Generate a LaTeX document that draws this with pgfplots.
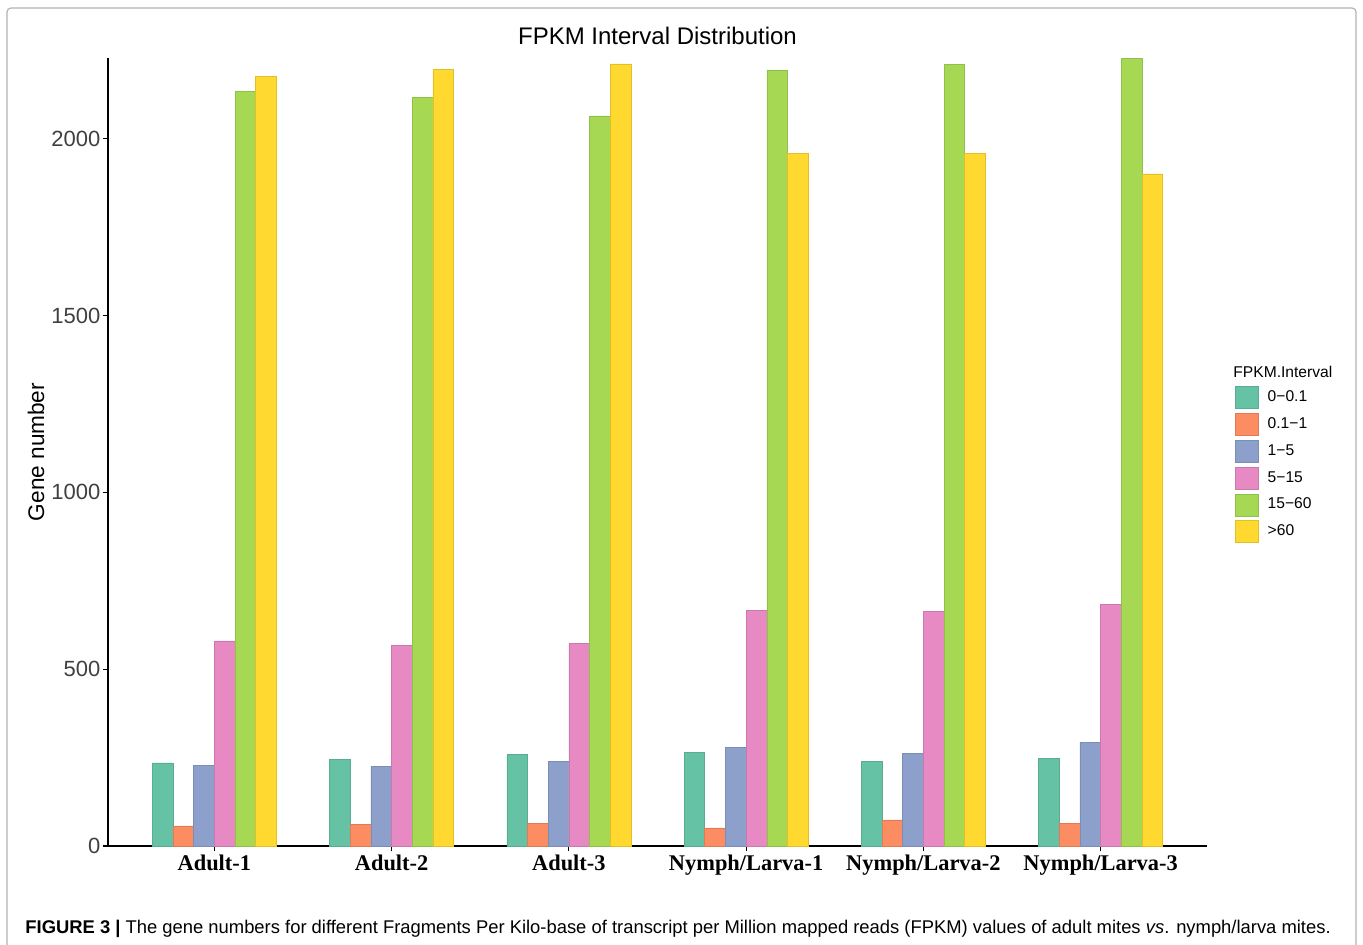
\documentclass[border=0pt]{standalone}
\usepackage{pgfplots}
\pgfplotsset{compat=1.18}
\usepackage{pgfplotstable}
\usepackage{fontspec}
\setmainfont{Liberation Sans}
\newfontfamily\tnr{Liberation Serif}
\definecolor{c1}{HTML}{66C2A5}
\definecolor{c2}{HTML}{FC8D62}
\definecolor{c3}{HTML}{8DA0CB}
\definecolor{c4}{HTML}{E78AC3}
\definecolor{c5}{HTML}{A6D854}
\definecolor{c6}{HTML}{FFD92F}
\pgfplotstableread{
x  a    b   c    d    e     f
0  235  57  227  580  2134  2177
1  244  60  226  568  2116  2196
2  258  64  240  573  2064  2211
3  264  51  279  665  2193  1958
4  240  74  262  664  2209  1959
5  247  63  294  683  2226  1900
}\datatab
\begin{document}
\begin{tikzpicture}
\useasboundingbox (0,0) rectangle (681.5pt,472.5pt);
\draw[gray!60, line width=0.6pt, rounded corners=2pt] (3.5pt,-3pt) rectangle (678pt,468.5pt);
\begin{axis}[
  at={(54pt,49.5pt)}, anchor=south west,
  scale only axis, width=549.5pt, height=394pt,
  xmin=-0.6, xmax=5.6, ymin=0, ymax=2228,
  axis x line*=bottom, axis y line*=left,
  axis line style={line width=1pt, black, -},
  ybar=0pt, bar width=10.34pt,
  xtick={0,1,2,3,4,5},
  xticklabels={Adult-1,Adult-2,Adult-3,Nymph/Larva-1,Nymph/Larva-2,Nymph/Larva-3},
  xticklabel style={font=\tnr\bfseries\fontsize{11.2}{13}\selectfont, yshift=2pt},
  ytick={0,500,1000,1500,2000},
  yticklabel style={font=\fontsize{11}{13}\selectfont, text=black!75, xshift=2.5pt},
  /pgf/number format/assume math mode=true,
  /pgf/number format/1000 sep={},
  tick align=outside, major tick length=2.75pt,
  tick style={line width=0.6pt, black},
  title={FPKM Interval Distribution},
  title style={font=\fontsize{12}{14}\selectfont, at={(axis description cs:0.5,1.0128)}, anchor=center},
  ylabel={Gene number},
  ylabel style={font=\fontsize{11.3}{13}\selectfont, at={(axis description cs:-0.0655,0.5)}, anchor=center},
  legend style={at={(rel axis cs:1.0255,0.5837)}, anchor=north west, draw=none, fill=none,
    inner sep=0pt, row sep=2.1pt, font=\fontsize{7.8}{9}\selectfont,
    nodes={inner sep=0pt}},
  legend cell align=left,
  legend image code/.code={\draw[#1, line width=0.3pt] (0pt,-5.5pt) rectangle (11.5pt,5.5pt);\path[draw=none,fill=none] (0pt,0pt) rectangle (16pt,0.1pt);},
  clip=false,
]
\addplot[fill=c1, draw=c1!88!black, line width=0.3pt] table[x=x,y=a]{\datatab};
\addplot[fill=c2, draw=c2!88!black, line width=0.3pt] table[x=x,y=b]{\datatab};
\addplot[fill=c3, draw=c3!88!black, line width=0.3pt] table[x=x,y=c]{\datatab};
\addplot[fill=c4, draw=c4!88!black, line width=0.3pt] table[x=x,y=d]{\datatab};
\addplot[fill=c5, draw=c5!88!black, line width=0.3pt] table[x=x,y=e]{\datatab};
\addplot[fill=c6, draw=c6!88!black, line width=0.3pt] table[x=x,y=f]{\datatab};
\legend{0−0.1,0.1−1,1−5,5−15,15−60,>60}
\end{axis}
\node[anchor=west, font=\fontsize{7.8}{9}\selectfont, inner sep=0pt] at (616.5pt,286.5pt) {FPKM.Interval};
\node[anchor=base west, font=\fontsize{9.2}{11}\selectfont, inner sep=0pt] at (12.5pt,5.5pt)
  {\textbf{FIGURE 3 |} The gene numbers for different Fragments Per Kilo-base of transcript per Million mapped reads (FPKM) values of adult mites \textit{vs}. nymph/larva mites.};
\end{tikzpicture}
\end{document}
